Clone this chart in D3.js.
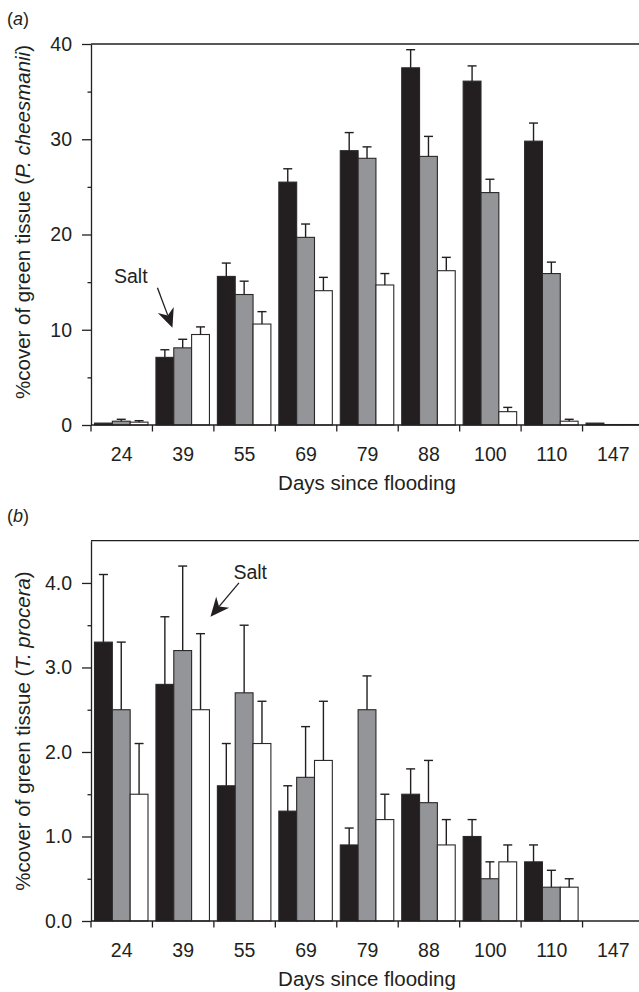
<!DOCTYPE html>
<html>
<head>
<meta charset="utf-8">
<script src="https://cdn.jsdelivr.net/npm/d3@7"></script>
<style>
  body { margin: 0; background: #fff; }
  svg text { font-family: "Liberation Sans", Arial, Helvetica, sans-serif; fill: #231f20; }
</style>
</head>
<body>
<svg width="639" height="992"></svg>
<script>
// days since flooding (shared by both panels)
const days = ["24", "39", "55", "69", "79", "88", "100", "110", "147"];
const fills = ["#231f20", "#939598", "#ffffff"];

// panel (a) P. cheesmanii, mean and SE per treatment
const aMean1 = [0.2, 7.1, 15.6, 25.5, 28.8, 37.5, 36.1, 29.8, 0.2];
const aErr1  = [0, 0.8, 1.4, 1.4, 1.9, 1.9, 1.6, 1.9, 0];
const aMean2 = [0.4, 8.1, 13.7, 19.7, 28.0, 28.2, 24.4, 15.9, 0.05];
const aErr2  = [0.2, 0.9, 1.4, 1.4, 1.2, 2.1, 1.4, 1.2, 0];
const aMean3 = [0.3, 9.5, 10.6, 14.1, 14.7, 16.2, 1.4, 0.4, 0.05];
const aErr3  = [0.15, 0.8, 1.3, 1.4, 1.2, 1.4, 0.45, 0.2, 0];

// panel (b) T. procera
const bMean1 = [3.3, 2.8, 1.6, 1.3, 0.9, 1.5, 1.0, 0.7, 0];
const bErr1  = [0.8, 0.8, 0.5, 0.3, 0.2, 0.3, 0.2, 0.2, 0];
const bMean2 = [2.5, 3.2, 2.7, 1.7, 2.5, 1.4, 0.5, 0.4, 0];
const bErr2  = [0.8, 1.0, 0.8, 0.6, 0.4, 0.5, 0.2, 0.2, 0];
const bMean3 = [1.5, 2.5, 2.1, 1.9, 1.2, 0.9, 0.7, 0.4, 0];
const bErr3  = [0.6, 0.9, 0.5, 0.7, 0.3, 0.3, 0.2, 0.1, 0];

const aMajor = [0, 10, 20, 30, 40];
const aMinor = [5, 15, 25, 35];
const bMajor = [0, 1, 2, 3, 4];
const bMinor = [0.5, 1.5, 2.5, 3.5];

const svg = d3.select("svg");

function drawPanel(p) {
  const x = d3.scaleBand().domain(days).range([91, 644]);
  const xi = d3.scaleBand().domain([0, 1, 2]).range([3.5, 57]);
  const y = d3.scaleLinear().domain([0, p.yMax]).range([p.bottom, p.top]);

  const g = svg.append("g");

  // panel letter
  const lab = g.append("text").attr("x", 7).attr("y", p.top - 19).style("font-size", "18px");
  lab.append("tspan").text("(");
  lab.append("tspan").style("font-style", "italic").text(p.letter);
  lab.append("tspan").text(")");

  // top frame line
  g.append("line")
    .attr("x1", 91).attr("x2", 639)
    .attr("y1", y(p.yMax)).attr("y2", y(p.yMax))
    .attr("stroke", "#231f20").attr("stroke-width", 1.3);

  // bars
  const rows = [];
  p.means.forEach((m, s) => m.forEach((v, i) => rows.push({day: days[i], s: s, v: v, e: p.errs[s][i]})));

  g.selectAll(".bar")
    .data(rows)
    .enter().append("rect")
      .attr("class", "bar")
      .attr("x", d => x(d.day) + xi(d.s))
      .attr("y", d => y(d.v))
      .attr("width", xi.bandwidth())
      .attr("height", d => p.bottom - y(d.v))
      .attr("fill", d => fills[d.s])
      .attr("stroke", "#2b2829")
      .attr("stroke-width", 1.1);

  // error bars
  const eb = g.selectAll(".err")
    .data(rows.filter(d => d.e > 0))
    .enter().append("g")
      .attr("class", "err")
      .attr("stroke", "#231f20")
      .attr("stroke-width", 1.4);
  eb.append("line")
    .attr("x1", d => x(d.day) + xi(d.s) + xi.bandwidth() / 2)
    .attr("x2", d => x(d.day) + xi(d.s) + xi.bandwidth() / 2)
    .attr("y1", d => y(d.v))
    .attr("y2", d => y(d.v + d.e));
  eb.append("line")
    .attr("x1", d => x(d.day) + xi(d.s) + xi.bandwidth() / 2 - 4.5)
    .attr("x2", d => x(d.day) + xi(d.s) + xi.bandwidth() / 2 + 4.5)
    .attr("y1", d => y(d.v + d.e))
    .attr("y2", d => y(d.v + d.e));

  // y axis, major and minor ticks
  const yAxis = g.append("g")
    .attr("transform", "translate(91,0)")
    .call(d3.axisLeft(y).tickValues(p.major).tickSize(9).tickSizeOuter(0).tickPadding(10).tickFormat(p.fmt));
  yAxis.selectAll("text").style("font-size", "19.5px").attr("fill", "#231f20");
  yAxis.selectAll("line, path").attr("stroke", "#231f20").attr("stroke-width", 1.3);

  g.append("g")
    .attr("transform", "translate(91,0)")
    .call(d3.axisLeft(y).tickValues(p.minor).tickSize(3.5).tickFormat(""))
    .call(a => a.select(".domain").remove())
    .selectAll("line").attr("stroke", "#231f20").attr("stroke-width", 1.3);

  // x axis
  g.append("line")
    .attr("x1", 91).attr("x2", 639)
    .attr("y1", p.bottom).attr("y2", p.bottom)
    .attr("stroke", "#231f20").attr("stroke-width", 1.3);

  const bounds = days.map(d => x(d)).concat([x(days[days.length - 1]) + x.bandwidth()]);
  g.selectAll(".xtick")
    .data(bounds)
    .enter().append("line")
      .attr("x1", d => d).attr("x2", d => d)
      .attr("y1", p.bottom).attr("y2", p.bottom + 6.5)
      .attr("stroke", "#231f20").attr("stroke-width", 1.3);

  g.selectAll(".xlab")
    .data(days)
    .enter().append("text")
      .attr("x", d => x(d) + x.bandwidth() / 2)
      .attr("y", p.bottom + 35.5)
      .attr("text-anchor", "middle")
      .style("font-size", "19.5px")
      .text(d => d);

  g.append("text")
    .attr("x", 367)
    .attr("y", p.bottom + 65)
    .attr("text-anchor", "middle")
    .style("font-size", "20.5px")
    .text("Days since flooding");

  // y title
  const yt = g.append("text")
    .attr("transform", `translate(30,${p.titleY}) rotate(-90)`)
    .attr("text-anchor", "middle")
    .style("font-size", "20.5px");
  yt.append("tspan").text("%cover of green tissue (");
  yt.append("tspan").style("font-style", "italic").text(p.species);
  yt.append("tspan").text(")");

  // Salt annotation
  const tip = [x(p.salt.day) + p.salt.tipDx, y(p.salt.tipV)];
  const tail = [x(p.salt.day) + p.salt.tailDx, y(p.salt.tailV)];
  const ang = Math.atan2(tip[1] - tail[1], tip[0] - tail[0]);
  const L = 19, W = 8.5;
  const ux = Math.cos(ang), uy = Math.sin(ang);
  const base = [tip[0] - L * ux, tip[1] - L * uy];
  const notch = [tip[0] - L * 0.7 * ux, tip[1] - L * 0.7 * uy];
  g.append("line")
    .attr("x1", tail[0]).attr("y1", tail[1])
    .attr("x2", notch[0]).attr("y2", notch[1])
    .attr("stroke", "#231f20").attr("stroke-width", 1.3);
  g.append("path")
    .attr("d", d3.line()([
      tip,
      [base[0] - W * uy, base[1] + W * ux],
      notch,
      [base[0] + W * uy, base[1] - W * ux]
    ]) + "Z")
    .attr("fill", "#231f20");
  g.append("text")
    .attr("x", x(p.salt.textDay) + p.salt.textDx)
    .attr("y", y(p.salt.textV))
    .style("font-size", "19.5px")
    .text("Salt");
}

drawPanel({
  letter: "a", species: "P. cheesmanii",
  top: 44, bottom: 425, yMax: 40, titleY: 222,
  major: aMajor, minor: aMinor, fmt: d3.format("d"),
  means: [aMean1, aMean2, aMean3], errs: [aErr1, aErr2, aErr3],
  salt: {day: "39", tipDx: 20, tipV: 10.2, tailDx: 5, tailV: 14.4, textDay: "24", textDx: 23, textV: 14.9}
});

drawPanel({
  letter: "b", species: "T. procera",
  top: 540.7, bottom: 921, yMax: 4.5, titleY: 731,
  major: bMajor, minor: bMinor, fmt: d3.format(".1f"),
  means: [bMean1, bMean2, bMean3], errs: [bErr1, bErr2, bErr3],
  salt: {day: "39", tipDx: 58, tipV: 3.6, tailDx: 86.5, tailV: 4.0, textDay: "39", textDx: 81, textV: 4.05}
});
</script>
</body>
</html>
